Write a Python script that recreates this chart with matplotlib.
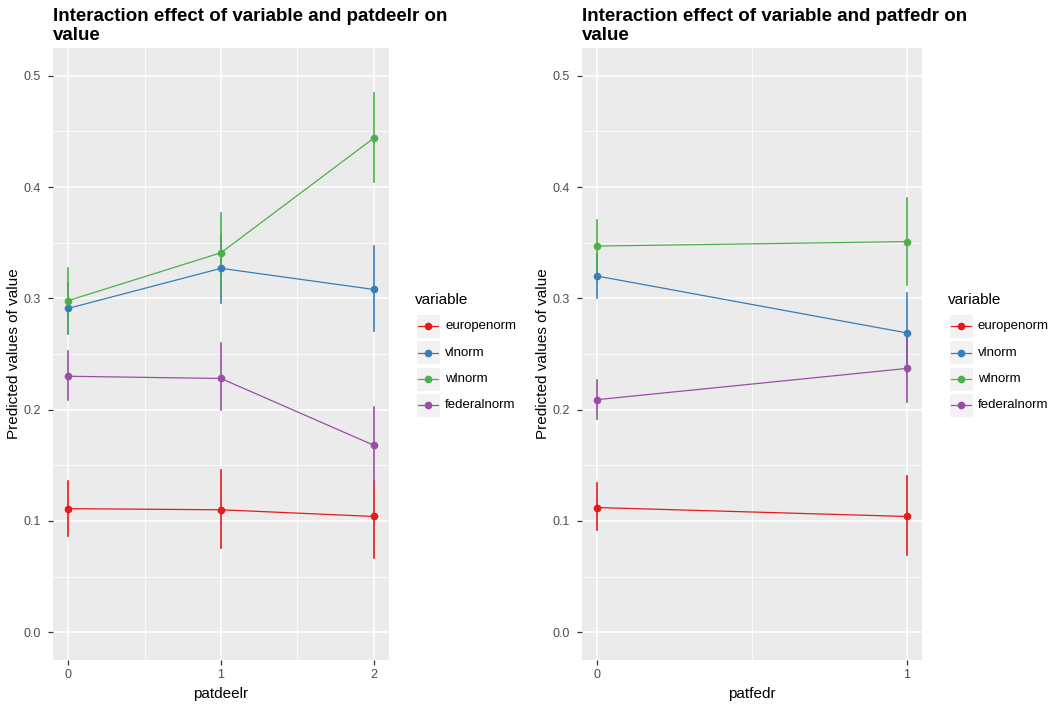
import matplotlib
matplotlib.use("Agg")
import matplotlib.pyplot as plt
from matplotlib.lines import Line2D
from matplotlib.patches import Rectangle
from matplotlib.ticker import MultipleLocator

plt.rcParams['font.family'] = ['Liberation Sans', 'DejaVu Sans']

variables = ["europenorm", "vlnorm", "wlnorm", "federalnorm"]
colors = ["#E41A1C", "#377EB8", "#4DAF4A", "#984EA3"]

# Left panel: patdeelr
x_left = [0, 1, 2]
left_est = {
    "europenorm": [0.111, 0.110, 0.104],
    "vlnorm": [0.291, 0.327, 0.308],
    "wlnorm": [0.298, 0.341, 0.444],
    "federalnorm": [0.230, 0.228, 0.168],
}
left_lo = {
    "europenorm": [0.086, 0.076, 0.067],
    "vlnorm": [0.268, 0.296, 0.271],
    "wlnorm": [0.269, 0.306, 0.405],
    "federalnorm": [0.209, 0.200, 0.135],
}
left_hi = {
    "europenorm": [0.136, 0.146, 0.136],
    "vlnorm": [0.314, 0.358, 0.347],
    "wlnorm": [0.327, 0.377, 0.485],
    "federalnorm": [0.253, 0.260, 0.202],
}

# Right panel: patfedr
x_right = [0, 1]
right_est = {
    "europenorm": [0.112, 0.104],
    "vlnorm": [0.320, 0.269],
    "wlnorm": [0.347, 0.351],
    "federalnorm": [0.209, 0.237],
}
right_lo = {
    "europenorm": [0.092, 0.069],
    "vlnorm": [0.300, 0.233],
    "wlnorm": [0.325, 0.312],
    "federalnorm": [0.192, 0.207],
}
right_hi = {
    "europenorm": [0.134, 0.140],
    "vlnorm": [0.340, 0.305],
    "wlnorm": [0.370, 0.390],
    "federalnorm": [0.227, 0.268],
}

titles = ["Interaction effect of variable and patdeelr on\nvalue",
          "Interaction effect of variable and patfedr on\nvalue"]
xlabels = ["patdeelr", "patfedr"]
ylabel = "Predicted values of value"

W, H = 1054, 704
fig = plt.figure(figsize=(W / 100, H / 100), dpi=100)

def px_axes(x0, y0, x1, y1):
    return fig.add_axes([x0 / W, 1 - y1 / H, (x1 - x0) / W, (y1 - y0) / H])

ax_l = px_axes(53, 48, 389, 660)
ax_r = px_axes(582, 48, 922, 660)

panels = [
    (ax_l, x_left, left_est, left_lo, left_hi, (-0.1, 2.1), 0.5),
    (ax_r, x_right, right_est, right_lo, right_hi, (-0.05, 1.05), 0.5),
]

for i, (ax, xs, est, lo, hi, xlim, xminor) in enumerate(panels):
    ax.set_facecolor("#EBEBEB")
    for s in ax.spines.values():
        s.set_visible(False)
    ax.set_xlim(*xlim)
    ax.set_ylim(-0.025, 0.525)
    ax.set_xticks(xs)
    ax.set_xticklabels([str(v) for v in xs])
    ax.xaxis.set_minor_locator(MultipleLocator(xminor))
    ax.set_yticks([0.0, 0.1, 0.2, 0.3, 0.4, 0.5])
    ax.set_yticklabels(["0.0", "0.1", "0.2", "0.3", "0.4", "0.5"])
    ax.yaxis.set_minor_locator(MultipleLocator(0.05))
    ax.grid(which="major", color="white", linewidth=1.1)
    ax.grid(which="minor", color="white", linewidth=0.55)
    ax.set_axisbelow(True)
    ax.tick_params(which="major", direction="out", length=3.5, width=0.9,
                   color="#333333", labelcolor="#4D4D4D", labelsize=9, pad=3)
    ax.tick_params(axis="y", which="major", pad=5)
    ax.tick_params(which="minor", length=0)
    for var, col in zip(variables, colors):
        ax.plot(xs, est[var], color=col, linewidth=0.9, zorder=3)
        for xv, l, h in zip(xs, lo[var], hi[var]):
            ax.plot([xv, xv], [l, h], color=col, linewidth=1.2, zorder=3)
        ax.plot(xs, est[var], linestyle="none", marker="o", markersize=4.5,
                color=col, zorder=4)
    ax.set_xlabel(xlabels[i], fontsize=11, color="black", labelpad=4)
    ax.set_ylabel(ylabel, fontsize=11, color="black", labelpad=2)
    ax.set_title(titles[i], loc="left", fontsize=13.5, fontweight="bold",
                 color="black", pad=6, linespacing=1.12)

# Legends (drawn in figure pixel coordinates)
def draw_legend(x0, ytitle, rows_y):
    fig.text(x0 / W, 1 - ytitle / H, "variable", fontsize=11,
             va="center", ha="left", color="black")
    for var, col, yy in zip(variables, colors, rows_y):
        fig.patches.append(Rectangle(((x0 + 1) / W, 1 - (yy + 12) / H), 24 / W, 24 / H,
                                     transform=fig.transFigure, facecolor="#F2F2F2",
                                     edgecolor="white", linewidth=0.8))
        fig.lines.append(Line2D([(x0 + 3) / W, (x0 + 23) / W], [1 - yy / H, 1 - yy / H],
                                transform=fig.transFigure, color=col, linewidth=0.9))
        fig.lines.append(Line2D([(x0 + 13) / W], [1 - yy / H], transform=fig.transFigure,
                                color=col, marker="o", markersize=4.5, linestyle="none"))
        fig.text((x0 + 30) / W, 1 - yy / H, var, fontsize=9.5, va="center",
                 ha="left", color="black")

draw_legend(415, 300, [326, 352.5, 378.5, 404.5])
draw_legend(948, 300, [326, 352.5, 378.5, 404.5])

fig.savefig("out.png", dpi=100)
